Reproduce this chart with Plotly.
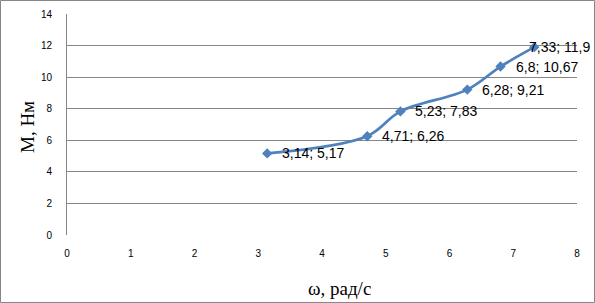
import plotly.graph_objects as go

omega = [3.14, 4.71, 5.23, 6.28, 6.8, 7.33]
moment = [5.17, 6.26, 7.83, 9.21, 10.67, 11.9]
labels = ["3,14; 5,17", "4,71; 6,26", "5,23; 7,83", "6,28; 9,21", "6,8; 10,67", "7,33; 11,9"]
x_ticks = [0, 1, 2, 3, 4, 5, 6, 7, 8]
y_ticks = [0, 2, 4, 6, 8, 10, 12, 14]

W, H = 595, 303
ML, MR, MT, MB = 67, 18, 14, 68
PW, PH = W - ML - MR, H - MT - MB

fig = go.Figure()
fig.add_trace(go.Scatter(
    x=omega, y=moment, mode="lines+markers",
    line=dict(color="#4F81BD", width=2.75, shape="spline", smoothing=1.0),
    marker=dict(symbol="diamond", size=8, color="#4F81BD"),
    cliponaxis=False, showlegend=False,
))

# data labels (Excel-style, right of point; last one pushed inside chart area)
annotations = []
for i, (xv, yv, lab) in enumerate(zip(omega, moment, labels)):
    annotations.append(dict(
        x=xv, y=yv, xref="x", yref="y", text=lab, showarrow=False,
        xanchor="left", yanchor="middle",
        xshift=(-7 if i == len(omega) - 1 else 13),
        font=dict(family="Liberation Sans, Arial", size=14, color="#000000"),
    ))

annotations.append(dict(
    text="ω, рад/с", xref="paper", yref="paper", x=(339 - ML) / PW, y=(MT + PH - 288) / PH,
    showarrow=False, xanchor="center", yanchor="middle",
    font=dict(family="Liberation Serif, Times New Roman", size=19, color="#000000"),
))
annotations.append(dict(
    text="M, Нм", xref="paper", yref="paper", x=(28 - ML) / PW, y=(MT + PH - 127) / PH,
    showarrow=False, xanchor="center", yanchor="middle", textangle=-90,
    font=dict(family="Liberation Serif, Times New Roman", size=19, color="#000000"),
))

fig.update_layout(
    width=W, height=H,
    margin=dict(l=ML, r=MR, t=MT, b=MB),
    paper_bgcolor="white", plot_bgcolor="white",
    font=dict(family="Liberation Sans, Arial", size=10, color="#000000"),
    xaxis=dict(range=[0, 8], tickvals=x_ticks, showgrid=False, zeroline=False, automargin=False,
               showline=False, ticks="", ticklabelstandoff=11),
    yaxis=dict(range=[0, 14], tickvals=y_ticks, showgrid=True, gridcolor="#868686", gridwidth=1, automargin=False,
               zeroline=False, showline=True, linecolor="#868686", linewidth=1, ticks="",
               ticklabelstandoff=12),
    annotations=annotations,
    shapes=[dict(type="rect", xref="paper", yref="paper",
                 x0=-(ML - 0.5) / PW, x1=1 + (MR - 0.5) / PW,
                 y0=-(MB - 0.5) / PH, y1=1 + (MT - 0.5) / PH,
                 line=dict(color="#868686", width=1))],
)

fig.write_html("out.html", config={"displayModeBar": False},
               post_script="document.body.style.margin='0';")
